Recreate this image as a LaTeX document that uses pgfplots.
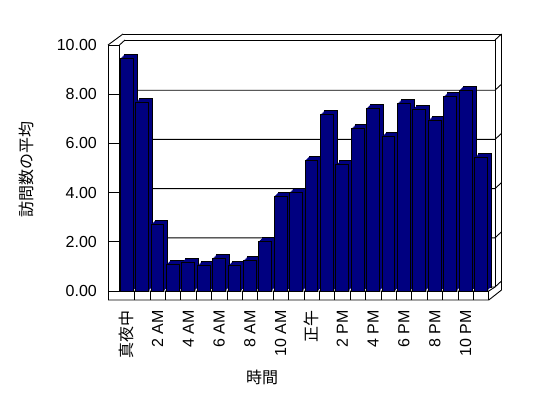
\documentclass[border=0pt]{standalone}
\usepackage{pgfplots}
\pgfplotsset{compat=1.18}
\usepackage{fontspec}
\setmainfont{Liberation Sans}
\newfontfamily\jp{Noto Sans CJK JP}
\definecolor{navybar}{RGB}{0,0,128}
\pgfplotstableread{
h v
0 9.46
1 7.67
2 2.71
3 1.09
4 1.17
5 1.03
6 1.33
7 1.03
8 1.25
9 2.03
10 3.86
11 4.01
12 5.31
13 7.18
14 5.13
15 6.60
16 7.43
17 6.29
18 7.63
19 7.39
20 6.94
21 7.91
22 8.16
23 5.43
}\visits
\begin{document}
\begin{tikzpicture}[x=1bp,y=1bp]
\path[use as bounding box] (0,0) rectangle (548,398);
\begin{scope}[line width=0.9bp]
% back wall
\draw (123,364) -- (501.5,364) -- (501.5,108);
\draw (125,358) -- (495,358) -- (495,111);
\draw (495,358) -- (501.5,364);
\foreach \v in {0,2,4,6,8} {\draw (125,{111+24.6*\v}) -- (495,{111+24.6*\v}) -- (501.5,{117+24.6*\v});}
% left wall
\draw (108,98) -- (108,353) -- (119.5,353) -- (119.5,107);
\draw (108,353) -- (123,364);
\draw (119.5,353) -- (125,358);
\foreach \v in {0,2,4,6,8} {\draw (108,{107+24.6*\v}) -- (119.5,{107+24.6*\v});}
% floor
\draw (108,98) -- (488.8,98) -- (501.5,108);
\draw (119.5,107) -- (488.8,107) -- (495,111);
\draw (488.8,98) -- (488.8,107);
\foreach \k in {1,...,23} {\draw ({119.2+15.4*\k},98) -- ({119.2+15.4*\k},107);}
\end{scope}
\begin{axis}[
  at={(108bp,107bp)}, anchor=south west,
  scale only axis, width=380.8bp, height=246bp,
  xmin=-1.214, xmax=23.51, ymin=0, ymax=10,
  clip=false,
  axis line style={draw=none},
  tick style={draw=none},
  major tick length=0pt,
  ytick={0,2,...,10},
  xtick={0,2,...,22},
  xticklabels={{\jp 真夜中},2 AM,4 AM,6 AM,8 AM,10 AM,{\jp 正午},2 PM,4 PM,6 PM,8 PM,10 PM},
  yticklabel style={font=\fontsize{16bp}{19bp}\selectfont, anchor=east, inner sep=0pt, xshift=-11bp},
  xticklabel style={font=\fontsize{16bp}{19bp}\selectfont, rotate=90, anchor=east, inner sep=0pt},
  xticklabel shift=19bp,
  /pgf/number format/.cd, fixed, fixed zerofill, precision=2, assume math mode=true,
  /pgfplots/.cd,
  xlabel={\jp 時間}, ylabel={\jp 訪問数の平均},
  every axis x label/.style={at={(axis description cs:0.4044,-0.3496)}, anchor=center, font=\fontsize{16bp}{19bp}\selectfont},
  every axis y label/.style={at={(axis description cs:-0.2153,0.492)}, rotate=90, anchor=center, font=\fontsize{16bp}{19bp}\selectfont},
]
\addplot[ybar, bar width=12.8bp, bar shift=0pt, fill=navybar, draw=black, line width=0.9bp,
  preaction={fill=navybar, draw=black, line width=0.9bp, transform canvas={shift={(4bp,4bp)}}},
  preaction={fill=navybar, draw=none, transform canvas={shift={(3bp,3bp)}}},
  preaction={fill=navybar, draw=none, transform canvas={shift={(2bp,2bp)}}},
  preaction={fill=navybar, draw=none, transform canvas={shift={(1bp,1bp)}}},
] table[x=h, y=v] {\visits};
\end{axis}
\end{tikzpicture}
\end{document}
